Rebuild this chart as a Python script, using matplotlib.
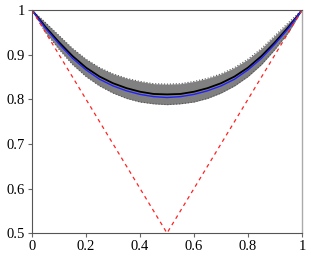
import matplotlib
matplotlib.use("Agg")
import matplotlib.pyplot as plt
import numpy as np

x = [0.0, 0.05, 0.1, 0.15, 0.2, 0.25, 0.3, 0.35, 0.4, 0.45, 0.5,
     0.55, 0.6, 0.65, 0.7, 0.75, 0.8, 0.85, 0.9, 0.95, 1.0]
mean_black = [1.0, 0.962, 0.928, 0.897, 0.871, 0.851, 0.836, 0.825, 0.817, 0.812, 0.811,
              0.812, 0.817, 0.825, 0.836, 0.851, 0.871, 0.897, 0.928, 0.962, 1.0]
mean_blue = [1.0, 0.959, 0.924, 0.892, 0.866, 0.845, 0.830, 0.819, 0.811, 0.806, 0.804,
             0.806, 0.811, 0.819, 0.830, 0.845, 0.866, 0.892, 0.924, 0.959, 1.0]
band_low = [1.0, 0.950, 0.912, 0.878, 0.851, 0.830, 0.814, 0.802, 0.794, 0.790, 0.788,
            0.790, 0.794, 0.802, 0.814, 0.830, 0.851, 0.878, 0.912, 0.950, 1.0]
band_high = [1.0, 0.972, 0.943, 0.914, 0.890, 0.871, 0.857, 0.847, 0.840, 0.835, 0.834,
             0.835, 0.840, 0.847, 0.857, 0.871, 0.890, 0.914, 0.943, 0.972, 1.0]
ref_x = [0.0, 0.5, 1.0]
ref_y = [1.0, 0.5, 1.0]

plt.rcParams['font.family'] = ['Liberation Serif', 'DejaVu Serif']
fig = plt.figure(figsize=(3.11, 2.59), dpi=100)
ax = fig.add_axes([0.103, 0.10, 0.868, 0.861])

ax.fill_between(x, band_low, band_high, color='#808080', linewidth=0)
ax.plot(x, band_low, color='#555555', linestyle=':', linewidth=0.8)
ax.plot(x, band_high, color='#555555', linestyle=':', linewidth=0.8)
ax.plot(x, mean_black, color='black', linewidth=1.3)
ax.plot(x, mean_blue, color='#2222ff', linewidth=1.0)
ax.plot(ref_x, ref_y, color='#ff2222', linestyle=(0, (3, 3)), linewidth=0.9)

ax.set_xlim(0, 1)
ax.set_ylim(0.5, 1)
ax.set_xticks([0, 0.2, 0.4, 0.6, 0.8, 1])
ax.set_xticklabels(['0', '0.2', '0.4', '0.6', '0.8', '1'])
ax.set_yticks([0.5, 0.6, 0.7, 0.8, 0.9, 1])
ax.set_yticklabels(['0.5', '0.6', '0.7', '0.8', '0.9', '1'])
ax.tick_params(direction='out', length=3, width=0.8, color='#666666',
               labelsize=10.5, pad=2, top=False, right=False)
for s in ['left', 'bottom', 'top']:
    ax.spines[s].set_color('#555555')
    ax.spines[s].set_linewidth(0.8)
ax.spines['right'].set_color('#aaaaaa')
ax.spines['right'].set_linewidth(1.0)

fig.savefig('out.png', dpi=100)
